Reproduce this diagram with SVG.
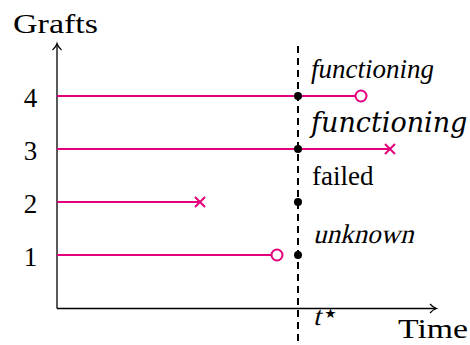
<svg xmlns="http://www.w3.org/2000/svg" width="470" height="345" viewBox="0 0 470 345">
<style>
text{font-family:'Liberation Serif','Times New Roman','DejaVu Serif',serif;font-size:27px;fill:#000}
.g{stroke:#e4007c;stroke-width:2;fill:none}
.ax{stroke:#000;stroke-width:1.3;fill:none}
</style>
<defs>
<marker id="arr" markerWidth="12" markerHeight="12" refX="9" refY="6" orient="auto" markerUnits="userSpaceOnUse">
<path d="M3,1.5 Q6,5 9.5,6 Q6,7 3,10.5" fill="none" stroke="#000" stroke-width="1.2"/>
</marker>
</defs>
<g id="axes">
<line class="ax" x1="57" y1="308.5" x2="57" y2="44" marker-end="url(#arr)"/>
<line class="ax" x1="57" y1="308.5" x2="436" y2="308.5" marker-end="url(#arr)"/>
<line x1="298" y1="46" x2="298" y2="345" stroke="#000" stroke-width="2" stroke-dasharray="7,5"/>
</g>
<g id="connectors">
<line class="g" x1="57" y1="96" x2="355" y2="96"/>
<line class="g" x1="57" y1="149" x2="390" y2="149"/>
<line class="g" x1="57" y1="202" x2="200" y2="202"/>
<line class="g" x1="57" y1="255" x2="271" y2="255"/>
</g>
<g id="graft4"><circle class="g" cx="361" cy="96" r="5.5"/><circle cx="298" cy="96" r="4"/></g>
<g id="graft3"><path class="g" d="M385,144 L395,154 M385,154 L395,144"/><circle cx="298" cy="149" r="4"/></g>
<g id="graft2"><path class="g" d="M195,197 L205,207 M195,207 L205,197"/><circle cx="298" cy="202" r="4"/></g>
<g id="graft1"><circle class="g" cx="277" cy="255" r="5.5"/><circle cx="298" cy="255" r="4"/></g>
<g id="labels">
<text x="13" y="33" textLength="85" lengthAdjust="spacingAndGlyphs">Grafts</text>
<text x="30.5" y="107" font-size="25" text-anchor="middle">4</text>
<text x="30.5" y="160" font-size="25" text-anchor="middle">3</text>
<text x="30.5" y="213" font-size="25" text-anchor="middle">2</text>
<text x="30.5" y="266" font-size="25" text-anchor="middle">1</text>
<text x="311" y="78" font-style="italic">functioning</text>
<text x="311" y="132" font-size="24" font-style="italic" style="font-family:'DejaVu Serif',serif">functioning</text>
<text x="312" y="185">failed</text>
<g transform="translate(313,243) skewX(-14)"><text>unknown</text></g>
<g transform="translate(313,325) skewX(-14)"><text>t</text></g>
<text x="322" y="322" font-size="18" style="font-family:'DejaVu Sans',sans-serif">⋆</text>
<text x="398" y="338" textLength="70" lengthAdjust="spacingAndGlyphs">Time</text>
</g>
</svg>
